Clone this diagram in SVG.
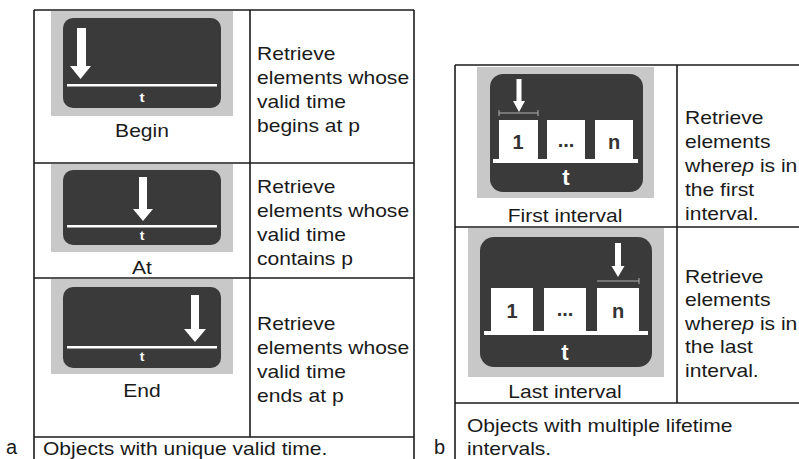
<svg xmlns="http://www.w3.org/2000/svg" width="799" height="459" viewBox="0 0 799 459">
<style>
.ln{stroke:#1c1c1c;stroke-width:1.6;fill:none}
.panel{fill:#c8c8c8}
.screen{fill:#3a3a3a}
.wh{fill:#ffffff}
.box{fill:#ffffff}
.br{stroke:#b0b0b0;stroke-width:1;fill:none}
.txt{font-family:"Liberation Sans",Arial,sans-serif;font-size:18px;fill:#1a1a1a}
.mid{text-anchor:middle}
.tt{font-family:"Liberation Sans",Arial,sans-serif;font-weight:bold;fill:#ffffff;text-anchor:middle}
.num{font-family:"Liberation Sans",Arial,sans-serif;font-weight:bold;font-size:20px;fill:#333333;text-anchor:middle}
.lbl{font-family:"Liberation Sans",Arial,sans-serif;font-size:20px;fill:#1a1a1a}
</style>
<rect width="799" height="459" fill="#ffffff"/>

<g id="grid">
  <path class="ln" d="M34 10H414M34 10V459M414 10V459M250 10V437M34 163H414M34 278H414M34 437H414"/>
  <path class="ln" d="M455 65H799M455 65V459M677 65V403M455 227H799M455 403H799"/>
</g>

<g id="begin">
  <rect class="panel" x="51" y="11" width="182" height="105"/>
  <rect class="screen" x="63" y="18" width="158" height="90" rx="10"/>
  <rect class="wh" x="67" y="84" width="150" height="2.5"/>
  <path class="wh" d="M77 28H86V66H91L80.5 79L70 66H77Z"/>
  <text class="tt" font-size="13" transform="matrix(1.17 0 0 1 142 102)">t</text>
  <text class="txt mid" transform="matrix(1.17 0 0 1 142 137)">Begin</text>
  <text class="txt" transform="matrix(1.17 0 0 1 257 60)">Retrieve</text>
  <text class="txt" transform="matrix(1.17 0 0 1 257 84)">elements whose</text>
  <text class="txt" transform="matrix(1.17 0 0 1 257 108)">valid time</text>
  <text class="txt" transform="matrix(1.17 0 0 1 257 132)">begins at p</text>
</g>

<g id="at">
  <rect class="panel" x="51" y="164" width="182" height="88"/>
  <rect class="screen" x="63" y="170" width="158" height="75" rx="10"/>
  <rect class="wh" x="67" y="225" width="150" height="2.5"/>
  <path class="wh" d="M139 177H147V209H153L143 221L133 209H139Z"/>
  <text class="tt" font-size="12" transform="matrix(1.17 0 0 1 142 240)">t</text>
  <text class="txt mid" transform="matrix(1.17 0 0 1 142 274)">At</text>
  <text class="txt" transform="matrix(1.17 0 0 1 257 193)">Retrieve</text>
  <text class="txt" transform="matrix(1.17 0 0 1 257 217)">elements whose</text>
  <text class="txt" transform="matrix(1.17 0 0 1 257 241)">valid time</text>
  <text class="txt" transform="matrix(1.17 0 0 1 257 265)">contains p</text>
</g>

<g id="end">
  <rect class="panel" x="51" y="279" width="182" height="95"/>
  <rect class="screen" x="63" y="287" width="158" height="81" rx="10"/>
  <rect class="wh" x="67" y="346" width="150" height="2.5"/>
  <path class="wh" d="M191 295H199V329H206L195 342L184 329H191Z"/>
  <text class="tt" font-size="12" transform="matrix(1.17 0 0 1 142 361)">t</text>
  <text class="txt mid" transform="matrix(1.17 0 0 1 142 397)">End</text>
  <text class="txt" transform="matrix(1.17 0 0 1 257 330)">Retrieve</text>
  <text class="txt" transform="matrix(1.17 0 0 1 257 354)">elements whose</text>
  <text class="txt" transform="matrix(1.17 0 0 1 257 378)">valid time</text>
  <text class="txt" transform="matrix(1.17 0 0 1 257 402)">ends at p</text>
</g>

<g id="caption-a">
  <text class="txt" transform="matrix(1.17 0 0 1 43 455)">Objects with unique valid time.</text>
  <text class="lbl" x="6" y="454">a</text>
</g>

<g id="first-interval">
  <rect class="panel" x="477" y="67" width="177" height="131"/>
  <rect class="screen" x="490" y="74" width="153" height="118" rx="13"/>
  <path class="br" d="M499 113H538M499 110V116M538 110V116"/>
  <path class="wh" d="M516.5 79H521.5V101H525L519 112L513 101H516.5Z"/>
  <rect class="box" x="499" y="120" width="39" height="39"/>
  <rect class="box" x="547" y="120" width="38" height="39"/>
  <rect class="box" x="595" y="120" width="38" height="39"/>
  <text class="num" x="518" y="149">1</text>
  <text class="num" x="566" y="147">...</text>
  <text class="num" x="614" y="149">n</text>
  <rect class="wh" x="493" y="159" width="145" height="4"/>
  <text class="tt" font-size="22" x="566" y="185">t</text>
  <text class="txt mid" transform="matrix(1.17 0 0 1 565 222)">First interval</text>
  <text class="txt" transform="matrix(1.17 0 0 1 685 124)">Retrieve</text>
  <text class="txt" transform="matrix(1.17 0 0 1 685 148)">elements</text>
  <text class="txt" transform="matrix(1.17 0 0 1 685 172)">where<tspan font-style="italic">p</tspan> is in</text>
  <text class="txt" transform="matrix(1.17 0 0 1 685 196)">the first</text>
  <text class="txt" transform="matrix(1.17 0 0 1 685 220)">interval.</text>
</g>

<g id="last-interval">
  <rect class="panel" x="468" y="228" width="196" height="149"/>
  <rect class="screen" x="480" y="237" width="172" height="130" rx="14"/>
  <path class="br" d="M597 281H639M639 278V284"/>
  <path class="wh" d="M615 243H621V266H624.5L618 277L611.5 266H615Z"/>
  <rect class="box" x="491" y="288" width="42" height="43"/>
  <rect class="box" x="544" y="288" width="42" height="43"/>
  <rect class="box" x="597" y="288" width="42" height="43"/>
  <text class="num" x="512" y="318">1</text>
  <text class="num" x="565" y="316">...</text>
  <text class="num" x="618" y="318">n</text>
  <rect class="wh" x="484" y="331" width="164" height="4"/>
  <text class="tt" font-size="22" x="565" y="360">t</text>
  <text class="txt mid" transform="matrix(1.17 0 0 1 565 398)">Last interval</text>
  <text class="txt" transform="matrix(1.17 0 0 1 685 283)">Retrieve</text>
  <text class="txt" transform="matrix(1.17 0 0 1 685 306)">elements</text>
  <text class="txt" transform="matrix(1.17 0 0 1 685 330)">where<tspan font-style="italic">p</tspan> is in</text>
  <text class="txt" transform="matrix(1.17 0 0 1 685 353)">the last</text>
  <text class="txt" transform="matrix(1.17 0 0 1 685 377)">interval.</text>
</g>

<g id="caption-b">
  <text class="txt" transform="matrix(1.17 0 0 1 467 432)">Objects with multiple lifetime</text>
  <text class="txt" transform="matrix(1.17 0 0 1 467 455)">intervals.</text>
  <text class="lbl" x="434" y="454">b</text>
</g>
</svg>
